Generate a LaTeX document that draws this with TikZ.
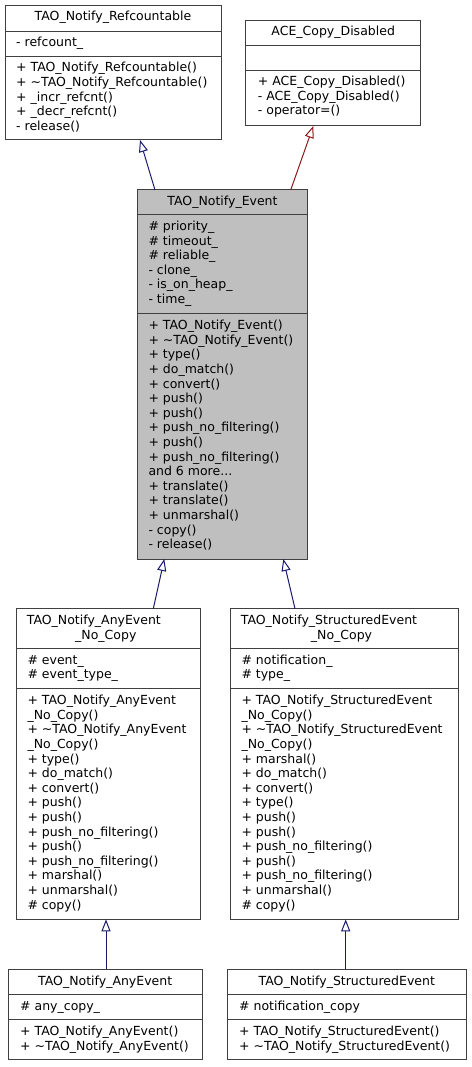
\documentclass[tikz,border=0pt]{standalone}
\usepackage{fontspec}
\newfontfamily\dv{DejaVu Sans}
\usetikzlibrary{arrows.meta}
\definecolor{navyedge}{HTML}{191970}
\definecolor{rededge}{HTML}{8B1A1A}
\definecolor{boxline}{HTML}{404040}
\definecolor{evfill}{HTML}{BFBFBF}
\newcommand\mlines[4]{%
  \foreach \t [count=\i from 0] in {#4} {\node[txt] (#1\i) at (#2, #3+\i*14.6) {\t};}}
\begin{document}
\begin{tikzpicture}[x=1pt,y=-1pt,
  cls/.style={draw=boxline, line width=1pt, fill=white, inner sep=0pt, outer sep=0pt, anchor=north west, rectangle},
  sepl/.style={draw=boxline, line width=1pt},
  txt/.style={anchor=base west, inner sep=0pt, font=\dv\fontsize{12.5}{14.6}\selectfont},
  ttl/.style={anchor=base, inner sep=0pt, font=\dv\fontsize{12.5}{14.6}\selectfont},
  inh/.style={draw=navyedge, line width=1pt, -{Triangle[open, length=12pt, width=9pt, fill=white]}},
  inhp/.style={draw=rededge, line width=1pt, -{Triangle[open, length=12pt, width=9pt, fill=white]}}]
\useasboundingbox[fill=white] (0,0) rectangle (471,1067);

% TAO_Notify_Refcountable
\node[cls, minimum width=216pt, minimum height=134pt] (ref) at (5,6) {};
\draw[sepl] (5,31.5) -- (221,31.5);
\draw[sepl] (5,57) -- (221,57);
\node[ttl] (reft) at (113,21) {TAO\_Notify\_Refcountable};
\mlines{refa}{16}{46.5}{- refcount\_}
\mlines{refm}{16}{72}{+ TAO\_Notify\_Refcountable(), + \textasciitilde TAO\_Notify\_Refcountable(), + \_incr\_refcnt(), + \_decr\_refcnt(), - release()}

% ACE_Copy_Disabled
\node[cls, minimum width=175pt, minimum height=105.3pt] (ace) at (245.7,20.7) {};
\draw[sepl] (245.7,45.7) -- (420.7,45.7);
\draw[sepl] (245.7,71) -- (420.7,71);
\node[ttl] (acet) at (333.2,36) {ACE\_Copy\_Disabled};
\mlines{acem}{257.7}{85.7}{+ ACE\_Copy\_Disabled(), - ACE\_Copy\_Disabled(), - operator=()}

% TAO_Notify_Event
\node[cls, fill=evfill, minimum width=170.4pt, minimum height=369pt] (ev) at (137.3,190) {};
\draw[sepl] (137.3,214.7) -- (307.7,214.7);
\draw[sepl] (137.3,313.7) -- (307.7,313.7);
\node[ttl] (evt) at (222.5,205.5) {TAO\_Notify\_Event};
\mlines{eva}{148.3}{230.5}{\# priority\_, \# timeout\_, \# reliable\_, - clone\_, - is\_on\_heap\_, - time\_}
\mlines{evm}{148.3}{329.7}{+ TAO\_Notify\_Event(), + \textasciitilde TAO\_Notify\_Event(), + type(), + do\_match(), + convert(), + push(), + push(), + push\_no\_filtering(), + push(), + push\_no\_filtering(), and 6 more.{}.{}., + translate(), + translate(), + unmarshal(), - copy(), - release()}

% TAO_Notify_AnyEvent_No_Copy
\node[cls, minimum width=184pt, minimum height=310.6pt] (anc) at (16,608.7) {};
\draw[sepl] (16,648.7) -- (200,648.7);
\draw[sepl] (16,688.3) -- (200,688.3);
\node[txt] (anct1) at (26.7,624.5) {TAO\_Notify\_AnyEvent};
\node[txt] (anct2) at (75,639) {\_No\_Copy};
\mlines{anca}{27.3}{664.3}{\# event\_, \# event\_type\_}
\mlines{ancm}{27.3}{704.7}{+ TAO\_Notify\_AnyEvent, \_No\_Copy(), + \textasciitilde TAO\_Notify\_AnyEvent, \_No\_Copy(), + type(), + do\_match(), + convert(), + push(), + push(), + push\_no\_filtering(), + push(), + push\_no\_filtering(), + marshal(), + unmarshal(), \# copy()}

% TAO_Notify_StructuredEvent_No_Copy
\node[cls, minimum width=228pt, minimum height=310.6pt] (snc) at (230,608.7) {};
\draw[sepl] (230,648.7) -- (458,648.7);
\draw[sepl] (230,688.3) -- (458,688.3);
\node[txt] (snct1) at (240.7,624.5) {TAO\_Notify\_StructuredEvent};
\node[txt] (snct2) at (310.7,639) {\_No\_Copy};
\mlines{snca}{241.3}{664.3}{\# notification\_, \# type\_}
\mlines{sncm}{241.3}{704.7}{+ TAO\_Notify\_StructuredEvent, \_No\_Copy(), + \textasciitilde TAO\_Notify\_StructuredEvent, \_No\_Copy(), + marshal(), + do\_match(), + convert(), + type(), + push(), + push(), + push\_no\_filtering(), + push(), + push\_no\_filtering(), + unmarshal(), \# copy()}

% TAO_Notify_AnyEvent
\node[cls, minimum width=194.3pt, minimum height=89.7pt] (any) at (8,969.3) {};
\draw[sepl] (8,994.3) -- (202.3,994.3);
\draw[sepl] (8,1019) -- (202.3,1019);
\node[ttl] (anyt) at (105.2,985) {TAO\_Notify\_AnyEvent};
\mlines{anya}{20}{1010.7}{\# any\_copy\_}
\mlines{anym}{20}{1035.7}{+ TAO\_Notify\_AnyEvent(), + \textasciitilde TAO\_Notify\_AnyEvent()}

% TAO_Notify_StructuredEvent
\node[cls, minimum width=238.3pt, minimum height=89.7pt] (ste) at (227.7,969.3) {};
\draw[sepl] (227.7,994.3) -- (466,994.3);
\draw[sepl] (227.7,1019) -- (466,1019);
\node[ttl] (stet) at (346.8,985) {TAO\_Notify\_StructuredEvent};
\mlines{stea}{239}{1010.7}{\# notification\_copy}
\mlines{stem}{239}{1035.7}{+ TAO\_Notify\_StructuredEvent(), + \textasciitilde TAO\_Notify\_StructuredEvent()}

% inheritance connectors
\draw[inh] ([xshift=17.7pt]ev.north west) -- ([xshift=135pt]ref.south west);
\draw[inhp] ([xshift=153.4pt]ev.north west) -- ([xshift=67.6pt]ace.south west);
\draw[inh] ([xshift=137.3pt]anc.north west) -- ([xshift=27pt]ev.south west);
\draw[inh] ([xshift=65pt]snc.north west) -- ([xshift=146pt]ev.south west);
\draw[inh] ([xshift=98pt]any.north west) -- ([xshift=90pt]anc.south west);
\draw[inh] ([xshift=118pt]ste.north west) -- ([xshift=115.7pt]snc.south west);
\end{tikzpicture}
\end{document}
